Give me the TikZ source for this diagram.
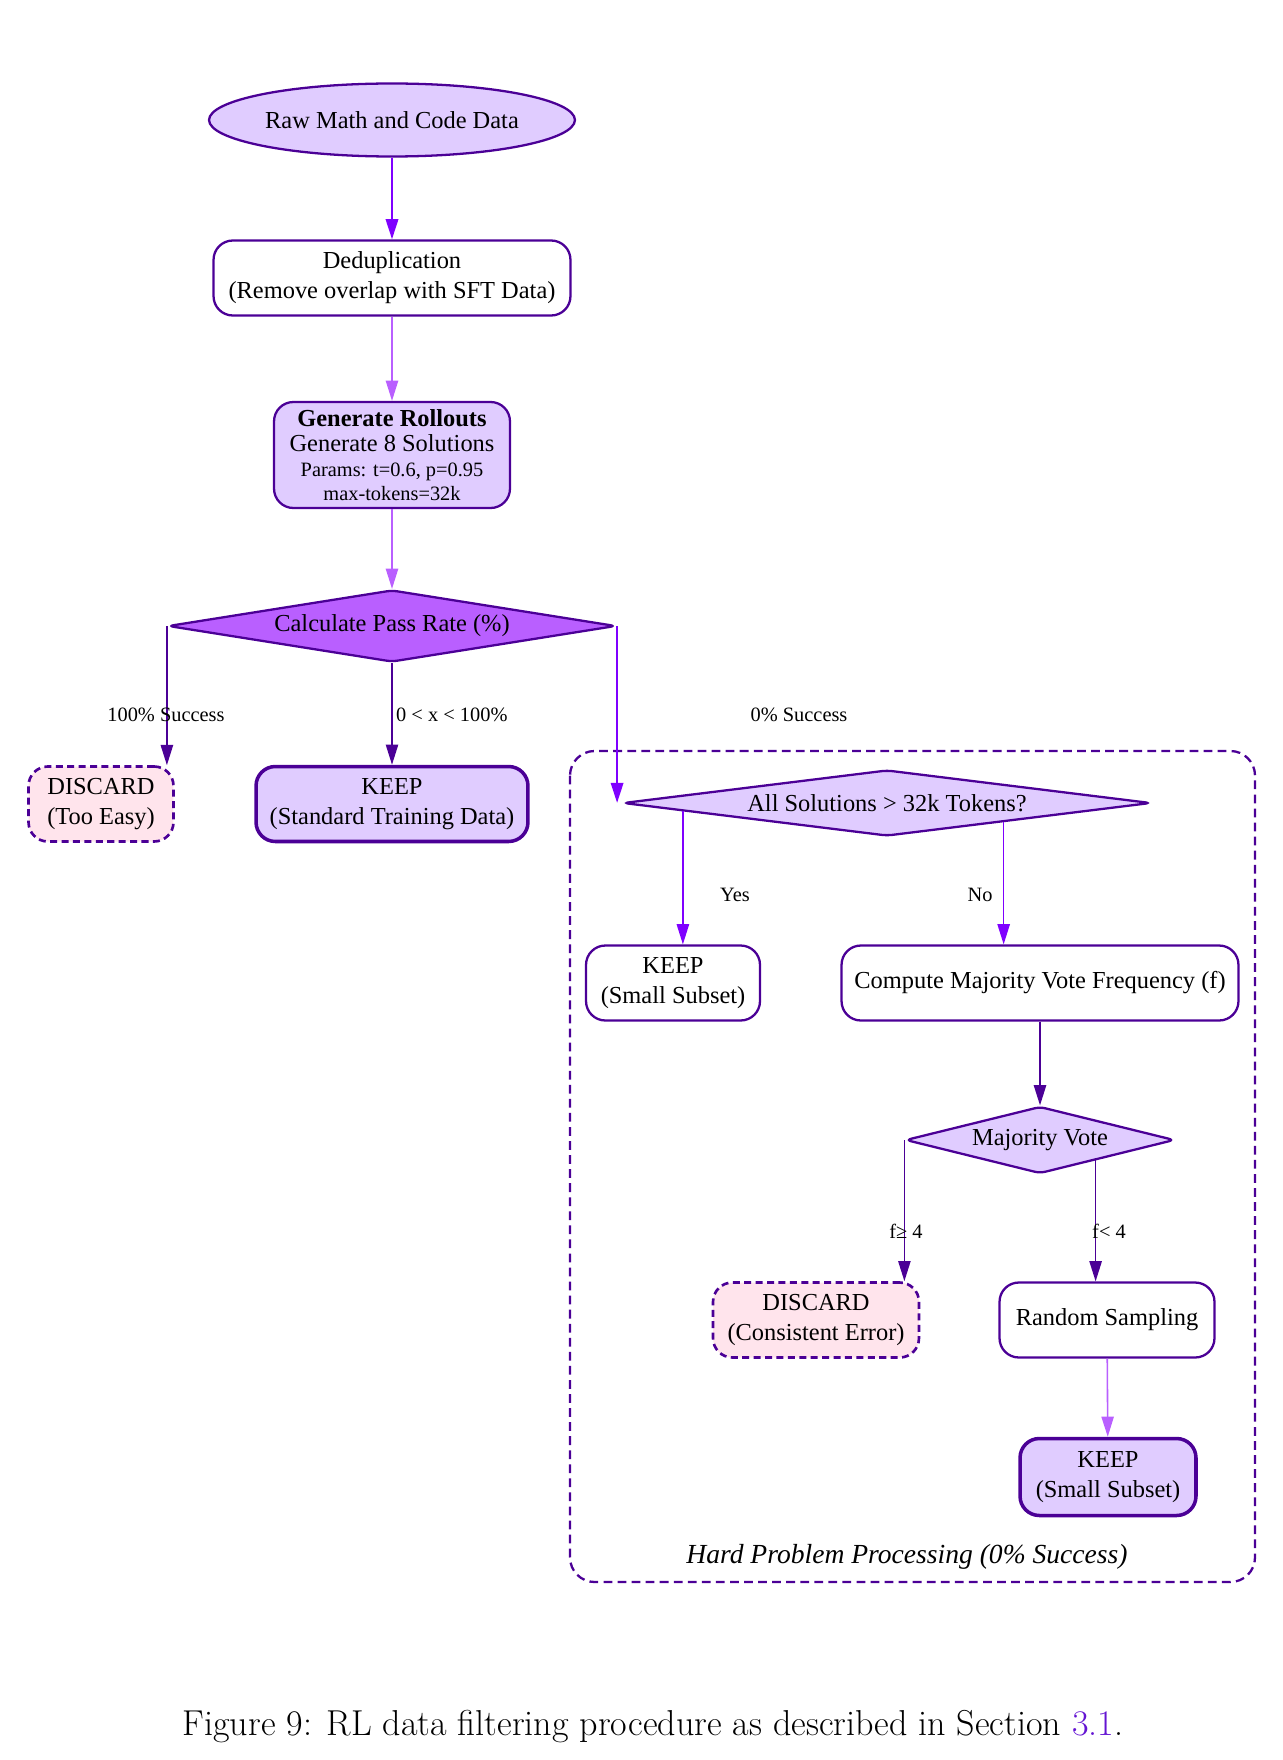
\documentclass[tikz,border=0pt]{standalone}
\usepackage{fontspec}
\usepackage{tikz}
\usetikzlibrary{positioning,calc,shapes.geometric,arrows.meta}
\newfontfamily\gvfont{Liberation Serif}
\definecolor{flowink}{RGB}{75,0,150}
\definecolor{flowviolet}{RGB}{127,0,255}
\definecolor{flowsoft}{RGB}{185,95,255}
\definecolor{flowlilac}{RGB}{224,204,255}
\definecolor{flowpink}{RGB}{255,228,236}
\definecolor{flowlink}{RGB}{100,20,210}
\newcommand{\gvsize}{\fontsize{13.9}{17}\selectfont}
\newcommand{\gvsmall}{\fontsize{11.6}{12}\selectfont}

\tikzset{
  box/.style={draw=flowink, line width=1.3pt, rounded corners=11pt, fill=white,
    align=center, minimum height=1.5cm, inner sep=2pt, font=\gvfont\gvsize},
  keepbox/.style={box, line width=2pt, fill=flowlilac},
  dropbox/.style={box, fill=flowpink, line width=1.5pt, dash pattern=on 4pt off 2.5pt},
  choice/.style={diamond, draw=flowink, line width=1.3pt, fill=flowlilac,
    rounded corners=3pt, inner sep=1pt, font=\gvfont\gvsize},
  edgetext/.style={font=\gvfont\gvsmall},
  link/.style={->, line width=0.9pt, flowink},
  strong/.style={line width=1.4pt, flowviolet},
  >={Triangle[length=11.5pt, width=7pt]}
}

\begin{document}
\begin{tikzpicture}[x=0.02cm, y=-0.02cm]
\useasboundingbox (0,0) rectangle (1282,1760);

% main column
\node[ellipse, draw=flowink, line width=1.3pt, fill=flowlilac, minimum width=7.32cm,
  minimum height=1.46cm, inner sep=0pt, font=\gvfont\gvsize] (raw) at (392,120) {Raw Math and Code Data};
\node[box, minimum width=7.14cm] (dedup) at (392,278) {Deduplication\\(Remove overlap with SFT Data)};
\node[box, fill=flowlilac, minimum width=4.72cm, minimum height=2.12cm, font=\gvfont\fontsize{13.9}{14.7}\selectfont] (gen) at (392,455)
  {\textbf{Generate Rollouts}\\Generate 8 Solutions\\[-0.7pt]\gvsmall Params: t=0.6, p=0.95\\[-1pt]\gvsmall max-tokens=32k};
\node[choice, fill=flowsoft, aspect=6.2, minimum width=8.96cm, minimum height=1.44cm] (calc) at (392,626) {Calculate Pass Rate (\%)};
\node[dropbox, minimum width=2.9cm] (dis1) at (101,804) {DISCARD\\(Too Easy)};
\node[keepbox, minimum width=5.44cm] (keep0) at (392,804) {KEEP\\(Standard Training Data)};

% hard problems
\draw[flowink, line width=1.3pt, dash pattern=on 5pt off 3pt, rounded corners=14pt] (570,751) rectangle (1255,1582);
\node[font=\gvfont\itshape\fontsize{15.7}{18}\selectfont] (hardlabel) at (907,1557) {Hard Problem Processing (0\% Success)};
\node[choice, aspect=8, minimum width=10.56cm, minimum height=1.32cm] (all) at (887,803) {All Solutions > 32k Tokens?};
\node[box, minimum width=3.48cm] (keepA) at (673,983) {KEEP\\(Small Subset)};
\node[box, minimum width=7.94cm] (comp) at (1040,983) {Compute Majority Vote Frequency (f)};
\node[choice, aspect=4, minimum width=5.38cm, minimum height=1.34cm] (maj) at (1040,1140) {Majority Vote};
\node[dropbox, minimum width=4.12cm] (dis2) at (816,1320) {DISCARD\\(Consistent Error)};
\node[box, minimum width=4.3cm] (rand) at (1107,1320) {Random Sampling};
\node[keepbox, minimum width=3.52cm, minimum height=1.54cm] (keepB) at (1108,1477) {KEEP\\(Small Subset)};

\coordinate (yesFrom) at ($(all.west)!0.23!(all.south)$);
\coordinate (noFrom) at ($(all.south)!0.44!(all.east)$);
\coordinate (ltFrom) at ($(maj.south)!0.41!(maj.east)$);

% connectors
\draw[link, strong] (raw) -- (dedup);
\draw[link, flowsoft] (dedup) -- (gen);
\draw[link, flowsoft] (gen) -- (calc);
\draw[link] (calc.west) -- (calc.west |- dis1.north);
\draw[link] (calc) -- (keep0);
\draw[link, strong] (calc.east) -- (calc.east |- all.west);
\draw[link, flowviolet] (yesFrom) -- (yesFrom |- keepA.north);
\draw[link, flowviolet] (noFrom) -- (noFrom |- comp.north);
\draw[link] (comp) -- (maj);
\draw[link] (maj.west) -- (maj.west |- dis2.north);
\draw[link] (ltFrom) -- (ltFrom |- rand.north);
\draw[link, flowsoft] (rand) -- (keepB);

% edge labels
\node[edgetext] (lEasy) at (166,715) {100\% Success};
\node[edgetext, anchor=west] (lMid) at (390,715) {0 < x < 100\%};
\node[edgetext] (lHard) at (799,715) {0\% Success};
\node[edgetext] (lYes) at (735,895) {Yes};
\node[edgetext] (lNo) at (980,895) {No};
\node[edgetext] (lGe) at (906,1231) {f≥ 4};
\node[edgetext] (lLt) at (1109,1231) {f< 4};

% caption
\node[font=\fontsize{20.5}{23}\selectfont] (caption) at (653,1727)
  {Figure 9: RL data filtering procedure as described in Section \textcolor{flowlink}{3.1}.};
\end{tikzpicture}
\end{document}
